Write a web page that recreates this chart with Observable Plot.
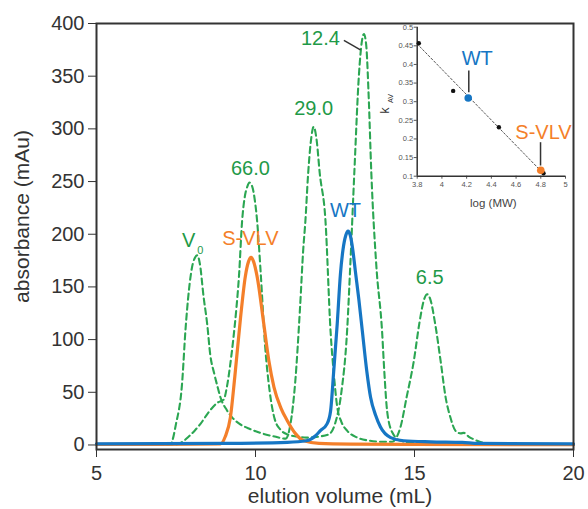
<!DOCTYPE html>
<html><head><meta charset="utf-8">
<script src="https://cdn.jsdelivr.net/npm/d3@7"></script>
<script src="https://cdn.jsdelivr.net/npm/@observablehq/plot@0.6"></script>
<style>
body{margin:0;background:#fff;}
#wrap{position:relative;width:588px;height:509px;}
#inset{position:absolute;left:376px;top:14px;}
</style></head><body><div id="wrap"><div id="main"></div><div id="inset"></div></div>
<script>
// ---- main chromatogram data (elution volume mL, absorbance mAu) ----
const xTicks = [5, 10, 15, 20];
const yTicks = [0, 50, 100, 150, 200, 250, 300, 350, 400];

// standards run A: V0, 29.0, 6.5 kDa
const stdAVolume = [5,7.0,7.2,7.33,7.5, 7.69,7.8,7.9,8.0,8.1, 8.17,8.25,8.37,8.48,8.58, 8.7,8.8,8.9,9.1,9.27, 9.5,9.84,10.2,10.6,10.95, 11.1,11.25,11.4,11.5,11.57, 11.65,11.74,11.83,11.92,12.02, 12.2,12.36,12.47,12.57,12.7, 12.88,13.2,13.6,14.0,14.3, 14.45,14.56,14.75,14.98,15.15, 15.3,15.4,15.5,15.65,15.82, 15.98,16.13,16.3,16.45,16.55, 16.7,16.97,17.4,18,20];
const stdAAbs    = [0,0,0.5,1,20, 58,110,145,168,178, 180,172,140,115,85, 68,56,45,33,26, 20,15,11,8,6, 20,60,130,185,213, 255,288,302,290,258, 213,108,65,36,22, 13.6,7,4,3,3, 8,17,45,80,115, 138,143,138,115,80, 45,26,13,11,11.5, 8,4,1,0.5,0];

// standards run B: 66.0, 12.4 kDa
const stdBVolume = [5,7.5,7.65,7.9,8.1, 8.27,8.5,8.8,9.0,9.1, 9.2,9.3,9.4,9.48,9.58, 9.66,9.74,9.81,9.9,9.98, 10.05,10.16,10.3,10.45,10.6, 10.8,11.0,11.3,11.6,12.0, 12.3,12.5,12.7,12.88,12.98, 13.11,13.25,13.34,13.41,13.48, 13.56,13.64,13.8,13.98,14.05, 14.14,14.3,14.56,15,16, 20];
const stdBAbs    = [0,0.5,2,8,14, 20,30,40,43,55, 75,100,130,160,213, 235,245,249,245,232, 213,165,95,50,25, 14,10,8,7,8, 10,20,50,108,170, 260,350,382,390,380, 330,260,170,108,70, 32,12,4,2,1, 0.5];

// S-VLV
const svlvVolume = [5,7,8.9,9.05,9.21, 9.35,9.53,9.68,9.78,9.86, 9.94,10.05,10.26,10.42,10.58, 10.8,11.0,11.25,11.52,12, 13,15,20];
const svlvAbs    = [0.5,0.5,1,8,26, 65,121,160,174,178, 174,160,115,80,55, 35,23,11,4,1.5, 0.8,0.5,0.3];

// WT
const wtVolume = [5,9,11,11.6,11.9, 12.04,12.25,12.36,12.46,12.57, 12.67,12.75,12.84,12.91,12.98, 13.06,13.14,13.25,13.36,13.5, 13.62,13.78,13.93,14.25,14.66, 15.5,16.5,17,20];
const wtAbs    = [1,1.5,2.5,4,9, 13.6,20,32,70,115, 162,185,199,203,199, 185,165,138,108,70, 45,28,17,7,4, 3,2.5,1.5,1];

// peak labels (kDa)
const peakLabels = ["66.0", "29.0", "12.4", "6.5"];
const peakLabelVolume = [9.84, 11.83, 12.04, 15.48];
const peakLabelAbs = [262, 319, 385.5, 159.2];

// ---- inset data: log(MW) vs Kav ----
const insetXTicks = [3.8, 4, 4.2, 4.4, 4.6, 4.8, 5];
const insetYTicks = [0.1, 0.15, 0.2, 0.25, 0.3, 0.35, 0.4, 0.45, 0.5];
const insetYLabels = ["0.1","0.15","0.2","0.25","0.3","0.35","0.4","0.45","0.5"];
const stdLogMW = [3.813, 4.091, 4.461, 4.822];
const stdKav   = [0.457, 0.329, 0.2315, 0.108];
const fitLogMW = [3.8, 4.825];
const fitKav   = [0.455, 0.106];
const wtLogMW = [4.213], wtKav = [0.310];
const svlvLogMW = [4.80], svlvKav = [0.116];

const rows = (xs, ys) => xs.map((x, i) => ({x, y: ys[i]}));

const font = "'Liberation Sans', Arial, Helvetica, sans-serif";
const green = "#2ba652", greenText = "#1f9a48", orange = "#f47f2a", blue = "#1676c4";
const dash = {stroke: green, strokeWidth: 2.1, strokeDasharray: "6,4", curve: "monotone-x"};

const mainPlot = Plot.plot({
  width: 588, height: 509,
  marginLeft: 96, marginRight: 15, marginTop: 23, marginBottom: 60,
  style: {fontFamily: font, fontSize: "20px", color: "#333", background: "transparent", overflow: "visible"},
  x: {domain: [5, 20], ticks: xTicks, tickSize: 8, tickPadding: 8, label: null},
  y: {domain: [-4.3, 400], ticks: yTicks, tickSize: 8, tickPadding: 4, label: null},
  marks: [
    Plot.line(rows(stdAVolume, stdAAbs), {x: "x", y: "y", ...dash}),
    Plot.line(rows(stdBVolume, stdBAbs), {x: "x", y: "y", ...dash}),
    Plot.line(rows(svlvVolume, svlvAbs), {x: "x", y: "y", stroke: orange, strokeWidth: 3.2, curve: "monotone-x"}),
    Plot.line(rows(wtVolume, wtAbs), {x: "x", y: "y", stroke: blue, strokeWidth: 3.2, curve: "monotone-x"}),
    Plot.frame({stroke: "#333", strokeWidth: 2}),
    Plot.text(peakLabels.map((t, i) => ({t, x: peakLabelVolume[i], y: peakLabelAbs[i]})), {x: "x", y: "y", text: "t", fill: greenText, fontSize: 20, lineAnchor: "middle"}),
    Plot.link([{x1: 12.78, y1: 383.9, x2: 13.3, y2: 375}], {x1: "x1", y1: "y1", x2: "x2", y2: "y2", stroke: "#333", strokeWidth: 1.5}),
    Plot.text([{x: 7.9, y: 194}], {x: "x", y: "y", text: () => "V", fill: greenText, fontSize: 20, lineAnchor: "middle"}),
    Plot.text([{x: 7.9, y: 194}], {x: "x", y: "y", text: () => "0", fill: greenText, fontSize: 11, lineAnchor: "middle", dx: 11.5, dy: 10}),
    Plot.text([{x: 9.84, y: 195.7}], {x: "x", y: "y", text: () => "S-VLV", fill: orange, fontSize: 20, lineAnchor: "middle"}),
    Plot.text([{x: 12.83, y: 222.6}], {x: "x", y: "y", text: () => "WT", fill: blue, fontSize: 20, lineAnchor: "middle"}),
    Plot.text(["elution volume (mL)"], {frameAnchor: "bottom", text: d => d, fontSize: 21, fill: "#333", dy: 47, dx: 5, textAnchor: "middle", lineAnchor: "middle"}),
    Plot.text(["absorbance (mAu)"], {frameAnchor: "left", text: d => d, fontSize: 21, fill: "#333", rotate: -90, dx: -74, dy: -20, textAnchor: "middle", lineAnchor: "middle"})
  ]
});
document.getElementById("main").appendChild(mainPlot);

const insetPlot = Plot.plot({
  width: 200, height: 200,
  marginLeft: 40.7, marginRight: 11, marginTop: 12.7, marginBottom: 38.3,
  style: {fontFamily: font, fontSize: "7.5px", color: "#555", background: "transparent", overflow: "visible"},
  x: {domain: [3.8, 5], ticks: insetXTicks, tickFormat: d => String(d), tickSize: 3, tickPadding: 2, label: null},
  y: {domain: [0.1, 0.5], ticks: insetYTicks, tickFormat: (d, i) => insetYLabels[i], tickSize: 3, tickPadding: 1, label: null},
  marks: [
    Plot.ruleX([3.8], {stroke: "#333", strokeWidth: 1.5}),
    Plot.ruleY([0.1], {stroke: "#333", strokeWidth: 1.5}),
    Plot.line(rows(fitLogMW, fitKav), {x: "x", y: "y", stroke: "#555", strokeWidth: 1, strokeDasharray: "2,2"}),
    Plot.dot(rows(stdLogMW, stdKav), {x: "x", y: "y", r: 2.2, fill: "#111"}),
    Plot.dot(rows(wtLogMW, wtKav), {x: "x", y: "y", r: 3.8, fill: blue}),
    Plot.dot(rows(svlvLogMW, svlvKav), {x: "x", y: "y", r: 3.8, fill: orange}),
    Plot.link([{x1: 4.2175, y1: 0.384, x2: 4.2175, y2: 0.3255}, {x1: 4.798, y1: 0.1913, x2: 4.798, y2: 0.1287}], {x1: "x1", y1: "y1", x2: "x2", y2: "y2", stroke: "#333", strokeWidth: 1.5}),
    Plot.text([{x: 4.2855, y: 0.4152}], {x: "x", y: "y", text: () => "WT", fill: blue, fontSize: 20, lineAnchor: "middle"}),
    Plot.text([{x: 4.822, y: 0.2181}], {x: "x", y: "y", text: () => "S-VLV", fill: orange, fontSize: 20, lineAnchor: "middle"}),
    Plot.text(["log (MW)"], {frameAnchor: "bottom", text: d => d, fontSize: 11.5, fill: "#444", dy: 27, dx: 2, textAnchor: "middle", lineAnchor: "middle"}),
    Plot.text(["k"], {frameAnchor: "left", text: d => d, fontSize: 12, fill: "#333", rotate: -90, dx: -31.7, dy: 8.8, textAnchor: "middle", lineAnchor: "middle"}),
    Plot.text(["AV"], {frameAnchor: "left", text: d => d, fontSize: 7, fill: "#333", rotate: -90, dx: -26.7, dy: -3.2, textAnchor: "middle", lineAnchor: "middle"})
  ]
});
document.getElementById("inset").appendChild(insetPlot);
</script></body></html>
